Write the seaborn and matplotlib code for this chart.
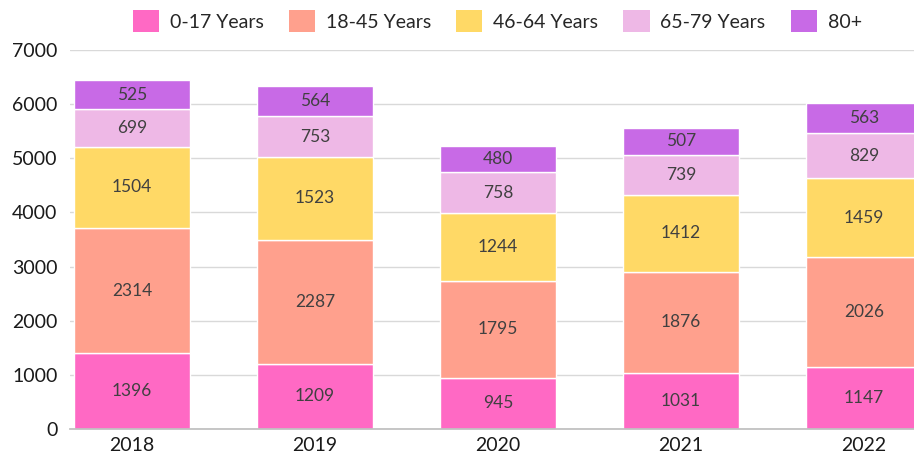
import pandas as pd
import matplotlib.pyplot as plt
import seaborn as sns
import numpy as np
from matplotlib.patches import Patch

# data
years = ['2018', '2019', '2020', '2021', '2022']
age_groups = ['0-17 Years', '18-45 Years', '46-64 Years', '65-79 Years', '80+']
age_0_17 = [1396, 1209, 945, 1031, 1147]
age_18_45 = [2314, 2287, 1795, 1876, 2026]
age_46_64 = [1504, 1523, 1244, 1412, 1459]
age_65_79 = [699, 753, 758, 739, 829]
age_80 = [525, 564, 480, 507, 563]

colors = ['#FF69C4', '#FFA08D', '#FFD966', '#EEB8E6', '#C86AE6']

sns.set_theme(style='white')
plt.rcParams['font.family'] = ['Lato', 'DejaVu Sans']

df = pd.DataFrame({'Year': years})
for name, vals in zip(age_groups, [age_0_17, age_18_45, age_46_64, age_65_79, age_80]):
    df[name] = vals

fig = plt.figure(figsize=(9.14, 4.61), dpi=100)
ax = fig.add_axes([70 / 914, 32 / 461, 856 / 914, 379 / 461])

bottom = np.zeros(len(years))
for name, col in zip(age_groups, colors):
    sns.barplot(data=df, x='Year', y=name, bottom=bottom, color=col,
                width=0.634, saturation=1, ax=ax, zorder=2)
    mids = bottom + df[name].values / 2
    for i, v in enumerate(df[name].values):
        ax.text(i, mids[i], str(v), ha='center', va='center',
                fontsize=12.5, color='#404040', zorder=3)
    bottom = bottom + df[name].values

ax.set_ylim(0, 7000)
ax.set_yticks(range(0, 7001, 1000))
ax.set_xlim(-0.34, 4.34)
ax.set_xlabel('')
ax.set_ylabel('')
ax.yaxis.grid(True, color='#D9D9D9', linewidth=1, zorder=0)
ax.set_axisbelow(True)
for s in ['top', 'right', 'left']:
    ax.spines[s].set_visible(False)
ax.spines['bottom'].set_color('#BFBFBF')
ax.spines['bottom'].set_zorder(4)
ax.tick_params(axis='y', length=0, pad=9, labelsize=14, labelcolor='#1A1A1A')
ax.tick_params(axis='x', length=0, pad=6, labelsize=14, labelcolor='#1A1A1A')

handles = [Patch(facecolor=c, edgecolor='none') for c in colors]
fig.legend(handles, age_groups, loc='center', bbox_to_anchor=(0.544, 0.954),
           ncol=5, frameon=False, fontsize=14, handlelength=1.35,
           handleheight=1.35, handletextpad=0.55, columnspacing=1.3)

plt.savefig('out.png', dpi=100)
